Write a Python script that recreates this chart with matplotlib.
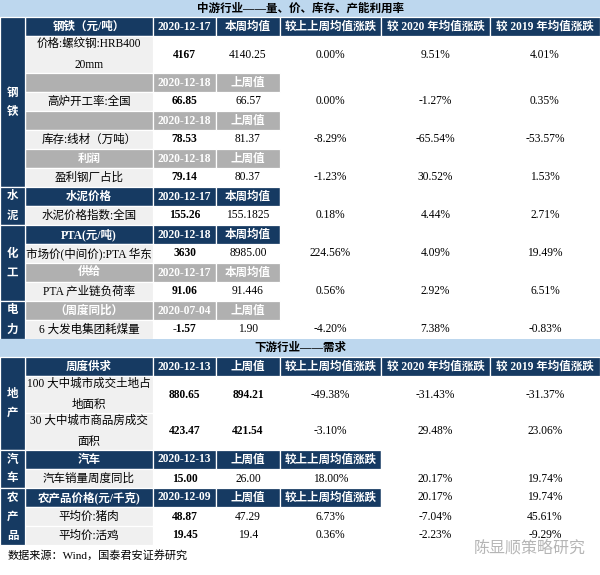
import matplotlib.pyplot as plt
from matplotlib.patches import Rectangle

plt.rcParams['font.family'] = ['Liberation Serif', 'Noto Sans CJK SC']

# column edges in pixels
cols = [0, 25, 153, 216, 280, 381, 490, 600]

navy = "#163a62"
gray_sub = "#b0b0b0"
gray_lbl = "#f0f0f0"
band = "#bdd7ee"

title_up = "中游行业——量、价、库存、产能利用率"
title_down = "下游行业——需求"

# (kind, texts)
up_rows = [
    ("head6", ["钢铁（元/吨）", "2020-12-17", "本周均值", "较上上周均值涨跌", "较 2020 年均值涨跌", "较 2019 年均值涨跌"]),
    ("tall", ["价格:螺纹钢:HRB400\n20mm", "4167", "4140.25", "0.00%", "9.51%", "4.01%"]),
    ("sub", ["", "2020-12-18", "上周值"]),
    ("data", ["高炉开工率:全国", "66.85", "66.57", "0.00%", "-1.27%", "0.35%"]),
    ("sub", ["", "2020-12-18", "上周值"]),
    ("data", ["库存:线材（万吨）", "78.53", "81.37", "-8.29%", "-65.54%", "-53.57%"]),
    ("sub", ["利润", "2020-12-18", "上周值"]),
    ("data", ["盈利钢厂占比", "79.14", "80.37", "-1.23%", "30.52%", "1.53%"]),
    ("head3", ["水泥价格", "2020-12-17", "本周均值"]),
    ("data", ["水泥价格指数:全国", "155.26", "155.1825", "0.18%", "4.44%", "2.71%"]),
    ("head3", ["PTA(元/吨)", "2020-12-18", "本周均值"]),
    ("data", ["市场价(中间价):PTA 华东", "3630", "8985.00", "224.56%", "4.09%", "19.49%"]),
    ("sub", ["供给", "2020-12-17", "本周均值"]),
    ("data", ["PTA 产业链负荷率", "91.06", "91.446", "0.56%", "2.92%", "6.51%"]),
    ("sub", ["（周度同比）", "2020-07-04", "上周值"]),
    ("data", ["6 大发电集团耗煤量", "-1.57", "1.90", "-4.20%", "7.38%", "-0.83%"]),
]
up_cats = [("钢铁", 8), ("水泥", 2), ("化工", 4), ("电力", 2)]

down_rows = [
    ("head6", ["周度供求", "2020-12-13", "上周值", "较上上周均值涨跌", "较 2020 年均值涨跌", "较 2019 年均值涨跌"]),
    ("tall2", ["100 大中城市成交土地占\n地面积", "880.65", "894.21", "-49.38%", "-31.43%", "-31.37%"]),
    ("tall2", ["30 大中城市商品房成交\n面积", "423.47", "421.54", "-3.10%", "29.48%", "23.06%"]),
    ("head4", ["汽车", "2020-12-13", "上周值", "较上上周均值涨跌", "", ""]),
    ("data", ["汽车销量周度同比", "15.00", "26.00", "18.00%", "20.17%", "19.74%"]),
    ("head4", ["农产品价格(元/千克)", "2020-12-09", "上周值", "较上上周均值涨跌", "20.17%", "19.74%"]),
    ("data", ["平均价:猪肉", "48.87", "47.29", "6.73%", "-7.04%", "45.61%"]),
    ("data", ["平均价:活鸡", "19.45", "19.4", "0.36%", "-2.23%", "-9.29%"]),
]
down_cats = [("地产", 3), ("汽车", 2), ("农产品", 3)]

source = "数据来源：Wind，国泰君安证券研究"
watermark = "陈显顺策略研究"

fig = plt.figure(figsize=(6, 5.75), dpi=100)
ax = fig.add_axes([0, 0, 1, 1])
ax.set_xlim(0, 600)
ax.set_ylim(575, 0)
ax.axis("off")
FS = 8.3


def box(x0, x1, y0, y1, fc):
    ax.add_patch(Rectangle((x0, y0), x1 - x0, y1 - y0, facecolor=fc,
                           edgecolor="white", lw=0.9))


def put(x, y, s, color="black", bold=False, fs=FS, ha="center"):
    ax.text(x, y, s, ha=ha, va="center", color=color, fontsize=fs,
            fontweight="bold" if bold else "normal", linespacing=2.0)


def draw_block(rows, cats, y):
    starts = []
    for kind, texts in rows:
        h = 37 if kind.startswith("tall") else 19
        starts.append((y, y + h))
        yc = y + h / 2
        if kind.startswith("head"):
            n = {"head6": 6, "head4": 4, "head3": 3}[kind]
            for c in range(1, 7):
                box(cols[c], cols[c + 1], y, y + h, navy if c <= n else "white")
            for c, s in enumerate(texts, start=1):
                on_dark = c <= n
                put((cols[c] + cols[c + 1]) / 2, yc, s,
                    color="white" if on_dark else "black", bold=on_dark)
        elif kind == "sub":
            for c in range(1, 4):
                box(cols[c], cols[c + 1], y, y + h, gray_sub)
            for c, s in enumerate(texts, start=1):
                put((cols[c] + cols[c + 1]) / 2, yc, s, color="white", bold=True)
        else:
            box(cols[1], cols[2], y, y + h, gray_lbl)
            for c, s in enumerate(texts, start=1):
                b = c == 2 or (kind == "tall2" and c == 3)
                put((cols[c] + cols[c + 1]) / 2, yc, s, bold=b)
        y += h
    # category column
    i = 0
    for name, n in cats:
        y0 = starts[i][0]
        y1 = starts[i + n - 1][1]
        box(cols[0], cols[1], y0, y1, navy)
        mid = (y0 + y1) / 2
        k = len(name)
        for j, ch in enumerate(name):
            put(12.5, mid + (j - (k - 1) / 2) * 19, ch, color="white", bold=True)
        i += n
    return y


# upstream
ax.add_patch(Rectangle((0, 0), 600, 17, facecolor=band, edgecolor="none"))
put(300, 8.5, title_up, bold=True)
y = draw_block(up_rows, up_cats, 17)

# downstream
ax.add_patch(Rectangle((0, y), 600, 18, facecolor=band, edgecolor="none"))
put(300, y + 9, title_down, bold=True)
y = draw_block(down_rows, down_cats, y + 18)

put(8, y + 10, source, fs=8.0, ha="left")
put(530, y + 3, watermark, color="#b5b5b5", fs=11.5)

fig.savefig("out.png", dpi=100)
